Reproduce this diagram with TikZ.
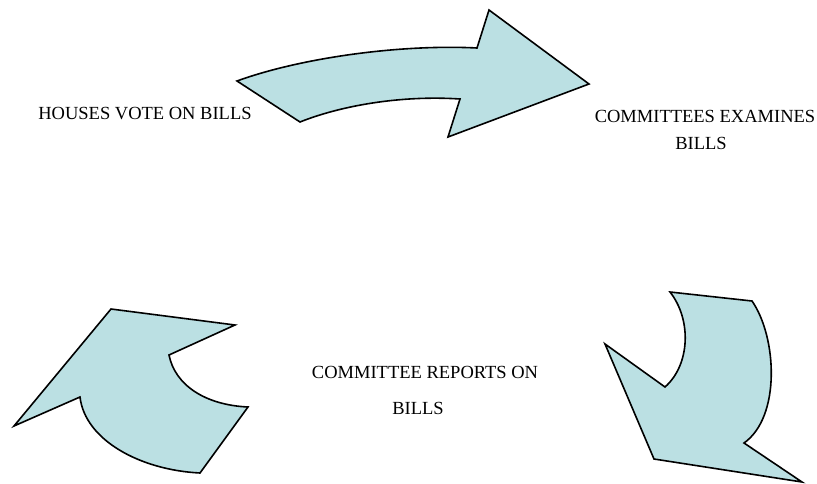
\documentclass[tikz,border=0pt]{standalone}
\usepackage{fontspec}
\setmainfont{Liberation Serif}
\usetikzlibrary{positioning}
\definecolor{arrowfill}{RGB}{187,224,227}

\tikzset{
  bigarrow/.style={draw=black, line width=1.6pt, fill=arrowfill, line join=miter},
  steptext/.style={inner sep=0pt, font=\fontsize{18.5}{22}\selectfont}
}

\begin{document}
\begin{tikzpicture}[x=1pt, y=-1pt]
  \useasboundingbox (0,0) rectangle (817,484);

  % curved arrows
  \draw[bigarrow] (237,81) .. controls (300,58) and (400,44) .. (477,48)
    -- (489,10) -- (589,84) -- (448,137) -- (460,99)
    .. controls (400,95) and (340,106) .. (300,122) -- cycle;
  \draw[bigarrow] (670,292) -- (752,301) .. controls (777,337) and (781,417) .. (744,443)
    -- (802,482) -- (654,459) -- (605,344) -- (665,387)
    .. controls (690,365) and (692,320) .. (670,292) -- cycle;
  \draw[bigarrow] (111,309) -- (235,325) -- (169,355)
    .. controls (175,385) and (205,405) .. (248,407) -- (200,473)
    .. controls (140,470) and (85,440) .. (80,397) -- (14,426) -- cycle;

  % stages
  \node[steptext] (houses) at (145,114) {HOUSES VOTE ON BILLS};
  \node[steptext] (examines) at (705,116) {COMMITTEES EXAMINES};
  \node[steptext, below=14.8pt of examines, xshift=-4pt] (examinesb) {BILLS};
  \node[steptext] (reports) at (425,372) {COMMITTEE REPORTS ON};
  \node[steptext, below=23.8pt of reports, xshift=-7pt] (reportsb) {BILLS};
\end{tikzpicture}
\end{document}
